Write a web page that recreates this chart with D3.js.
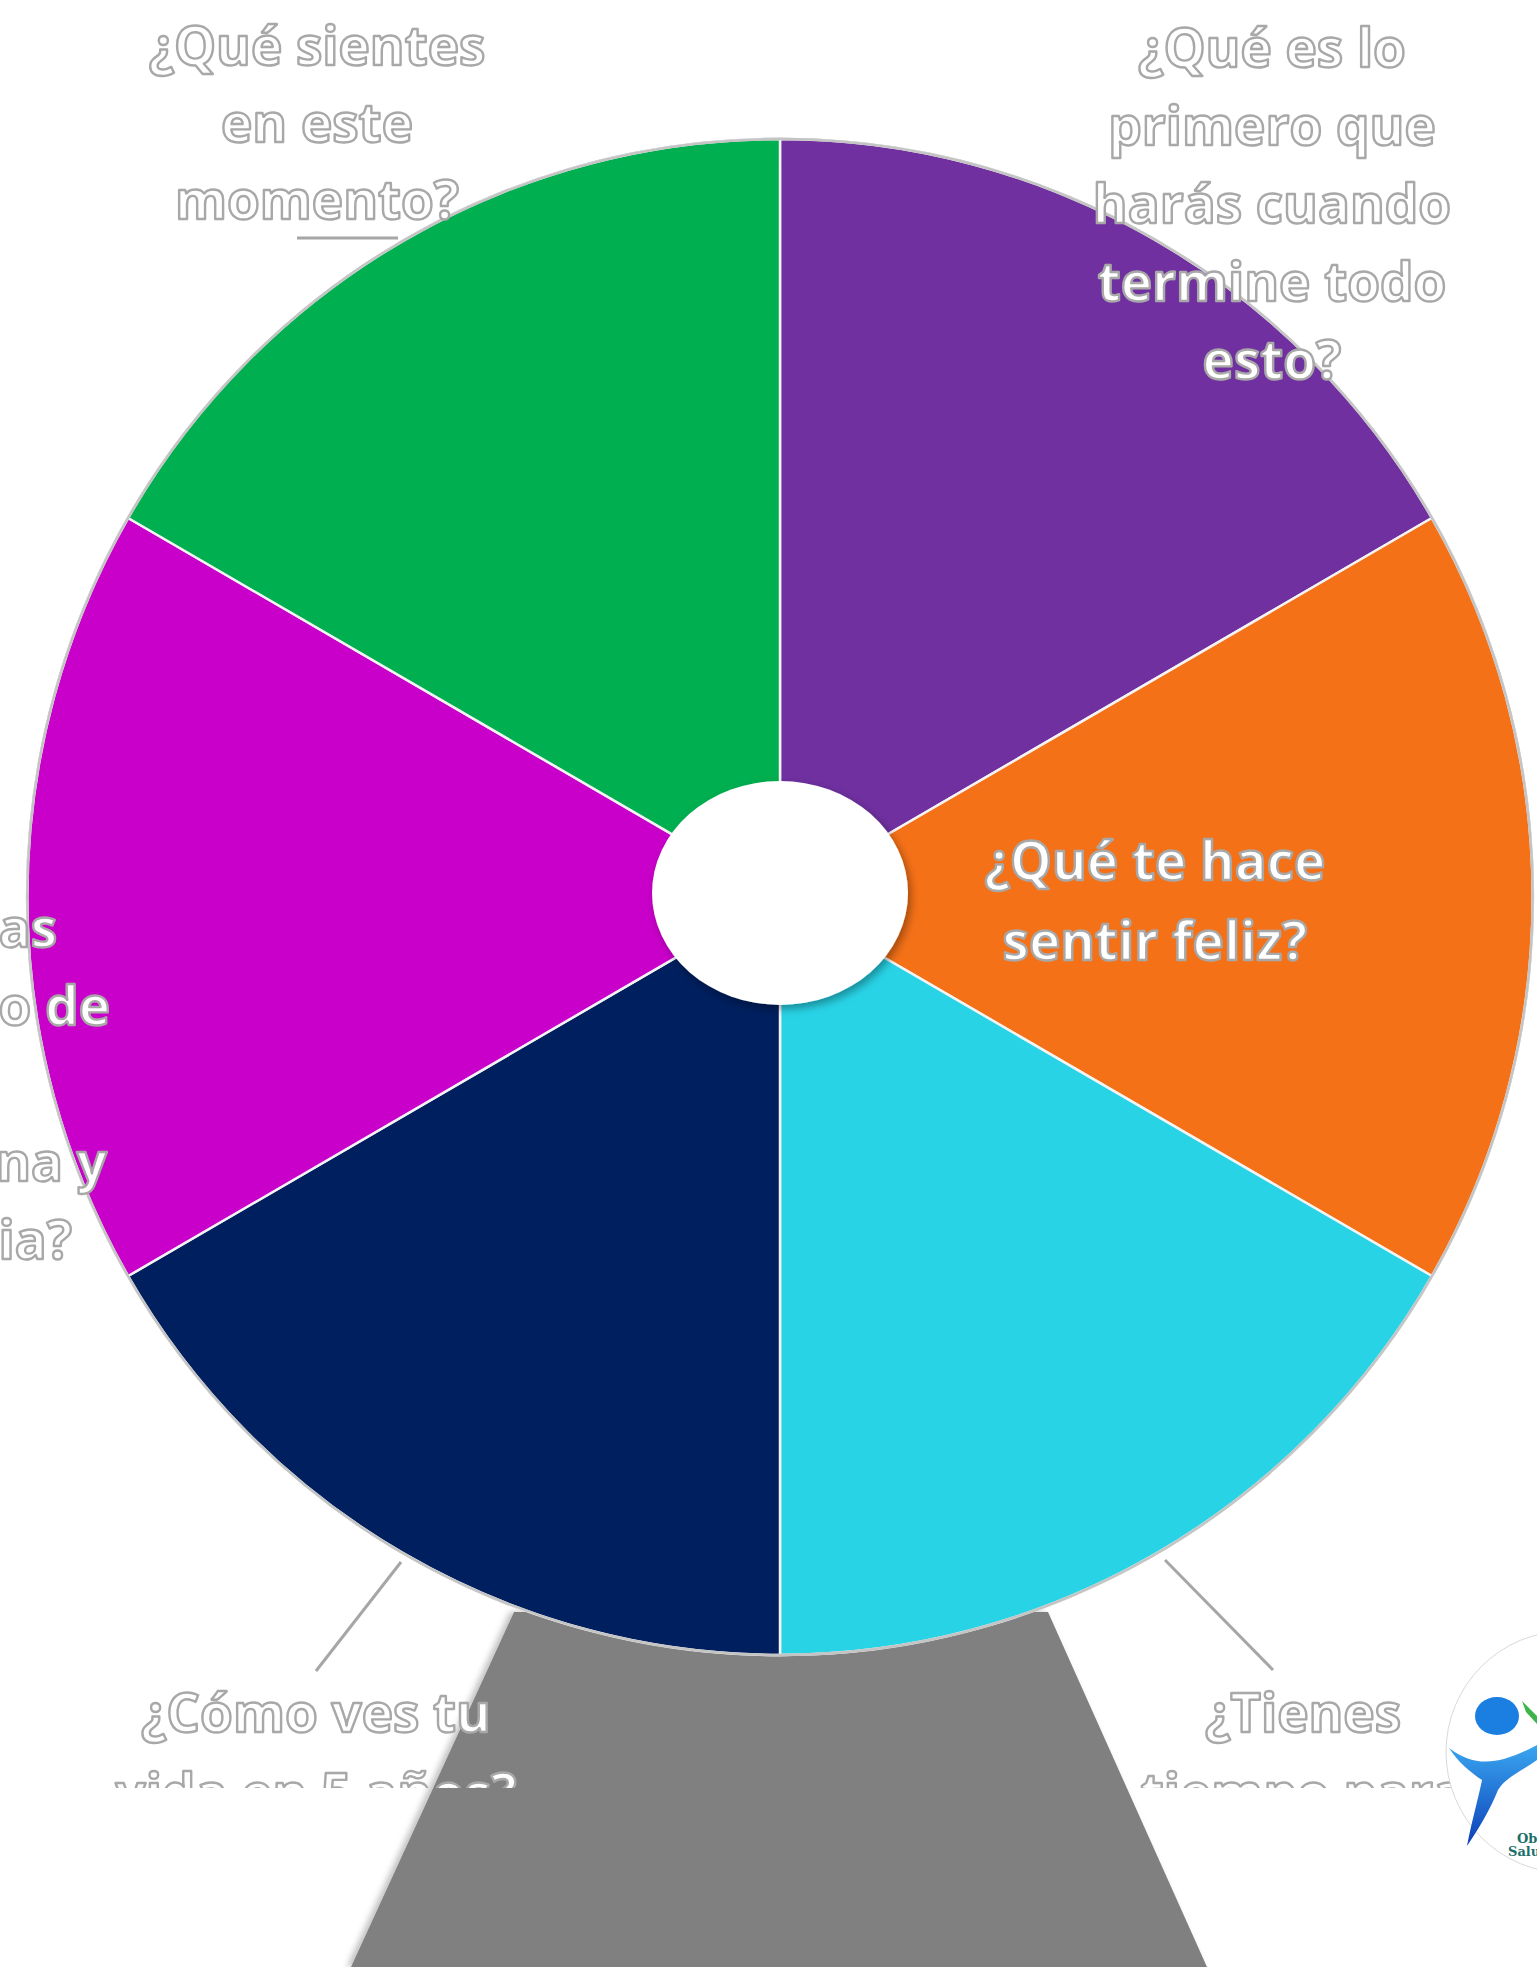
<!DOCTYPE html>
<html>
<head>
<meta charset="utf-8">
<script src="https://cdn.jsdelivr.net/npm/d3@7/dist/d3.min.js"></script>
<style>
  html, body { margin: 0; padding: 0; background: #ffffff; }
  svg { display: block; }
</style>
</head>
<body>
<script>
// ---------------- data ----------------
const categories = [
  "¿Qué es lo primero que harás cuando termine todo esto?",
  "¿Qué te hace sentir feliz?",
  "¿Tienes tiempo para ti?",
  "¿Cómo ves tu vida en 5 años?",
  "¿Qué cosas buenas has aprendido de ti en esta cuarentena y convivencia?",
  "¿Qué sientes en este momento?"
];
const values = [1, 1, 1, 1, 1, 1];
const sliceColors = ["#7030A0", "#F57118", "#28D3E6", "#001F5E", "#C900C9", "#00AF50"];
const labelLines = [
  ["¿Qué es lo", "primero que", "harás cuando", "termine todo", "esto?"],
  ["¿Qué te hace", "sentir feliz?"],
  ["¿Tienes", "tiempo para"],
  ["¿Cómo ves tu", "vida en 5 años?"],
  ["¿Qué cosas buenas", "has aprendido de", "ti en esta", "cuarentena y", "convivencia?"],
  ["¿Qué sientes", "en este", "momento?"]
];

// ---------------- layout ----------------
const W = 1537, H = 1967;
const cx = 780, cy = 897, R = 758;
const labelLayout = [
  { x: 1272, y: 67, anchor: "middle", dy: 78 },
  { x: 1155, y: 880, anchor: "middle", dy: 80 },
  { x: 1303, y: 1732, anchor: "middle", dy: 80, clip: true },
  { x: 316, y: 1732, anchor: "middle", dy: 80, clip: true },
  { xs: [57, 110, -20, 107, 72], y: 947, anchor: "end", dy: 78 },
  { x: 317, y: 65, anchor: "middle", dy: 77 }
];
const leaders = [
  null, null,
  [[1165, 1560], [1273, 1670]],
  [[401, 1562], [316, 1671]],
  null,
  [[297, 238], [398, 238]]
];

const svg = d3.select("body").append("svg")
  .attr("width", W).attr("height", H)
  .attr("viewBox", `0 0 ${W} ${H}`);

const defs = svg.append("defs");
const sh = defs.append("filter").attr("id", "shadow")
  .attr("x", "-20%").attr("y", "-20%").attr("width", "140%").attr("height", "140%");
sh.append("feDropShadow").attr("dx", 3).attr("dy", 4).attr("stdDeviation", 4)
  .attr("flood-color", "#000").attr("flood-opacity", 0.35);
const sh2 = defs.append("filter").attr("id", "standShadow")
  .attr("x", "-10%").attr("y", "-10%").attr("width", "120%").attr("height", "120%");
sh2.append("feDropShadow").attr("dx", -4).attr("dy", 0).attr("stdDeviation", 3)
  .attr("flood-color", "#000").attr("flood-opacity", 0.25);
defs.append("clipPath").attr("id", "bottomClip")
  .append("rect").attr("x", 0).attr("y", 0).attr("width", W).attr("height", 1788);

// ---------------- stand ----------------
svg.append("path")
  .attr("d", d3.line()([[514, 1612], [1048, 1612], [1207, 1967], [351, 1967]]) + "Z")
  .attr("fill", "#808080")
  .attr("filter", "url(#standShadow)");

// ---------------- pie ----------------
const pie = d3.pie().sort(null).value(d => d)(values);
const arc = d3.arc().innerRadius(0).outerRadius(R);
const g = svg.append("g").attr("transform", `translate(${cx},${cy}) scale(0.993,1)`);

g.append("circle").attr("r", R + 1.5).attr("fill", "#bfbfbf");
g.selectAll("path.slice").data(pie).join("path")
  .attr("class", "slice")
  .attr("d", arc)
  .attr("fill", (d, i) => sliceColors[i])
  .attr("stroke", "#f4f4f4")
  .attr("stroke-width", 2.5)
  .attr("stroke-linejoin", "round");
g.append("circle").attr("r", R).attr("fill", "none")
  .attr("stroke", "#c4c4c4").attr("stroke-width", 2.5);

// center hub
svg.append("ellipse")
  .attr("cx", 780).attr("cy", 893).attr("rx", 128).attr("ry", 112)
  .attr("fill", "#ffffff")
  .attr("filter", "url(#shadow)");

// ---------------- leader lines ----------------
leaders.forEach(l => {
  if (!l) return;
  svg.append("path").attr("d", d3.line()(l))
    .attr("stroke", "#a6a6a6").attr("stroke-width", 3).attr("fill", "none");
});

// ---------------- labels ----------------
const labelG = svg.append("g")
  .style("font-family", "'Open Sans', Lato, sans-serif")
  .style("font-weight", 700)
  .style("font-size", "53px");

labelLines.forEach((lines, i) => {
  const L = labelLayout[i];
  const t = labelG.append("text")
    .attr("text-anchor", L.anchor)
    .attr("fill", "#ffffff")
    .attr("stroke", "#a8a8a8")
    .attr("stroke-width", 2.4)
    .attr("stroke-linejoin", "round");
  if (L.clip) t.attr("clip-path", "url(#bottomClip)");
  lines.forEach((s, j) => {
    t.append("tspan")
      .attr("x", L.xs ? L.xs[j] : L.x)
      .attr("y", L.y + j * L.dy)
      .text(s);
  });
});

// ---------------- logo (partially off-canvas) ----------------
const logo = svg.append("g");
logo.append("circle").attr("cx", 1567).attr("cy", 1752).attr("r", 121)
  .attr("fill", "#ffffff").attr("stroke", "#d9d9d9").attr("stroke-width", 1);
const grad = defs.append("linearGradient").attr("id", "blueGrad")
  .attr("x1", 0).attr("y1", 0).attr("x2", 0).attr("y2", 1);
grad.append("stop").attr("offset", "0%").attr("stop-color", "#3aa6f0");
grad.append("stop").attr("offset", "100%").attr("stop-color", "#0b3fb8");
logo.append("ellipse").attr("cx", 1497).attr("cy", 1716).attr("rx", 22).attr("ry", 19)
  .attr("fill", "#1a7fe0");
logo.append("path")
  .attr("d", "M1449,1748 C1475,1768 1500,1765 1537,1745 L1537,1760 C1520,1772 1505,1778 1498,1790 C1490,1810 1478,1830 1467,1846 C1472,1820 1478,1800 1482,1780 C1470,1772 1458,1762 1449,1748 Z")
  .attr("fill", "url(#blueGrad)");
logo.append("path")
  .attr("d", "M1522,1701 L1537,1716 L1537,1724 L1526,1712 Z")
  .attr("fill", "#3cb54a");
logo.append("text").attr("x", 1517).attr("y", 1843)
  .style("font-family", "'DejaVu Serif', serif").style("font-weight", 700).style("font-size", "13px")
  .attr("fill", "#1b6f6a").text("Obs");
logo.append("text").attr("x", 1508).attr("y", 1856)
  .style("font-family", "'DejaVu Serif', serif").style("font-weight", 700).style("font-size", "13px")
  .attr("fill", "#1b6f6a").text("Salud");
</script>
</body>
</html>
